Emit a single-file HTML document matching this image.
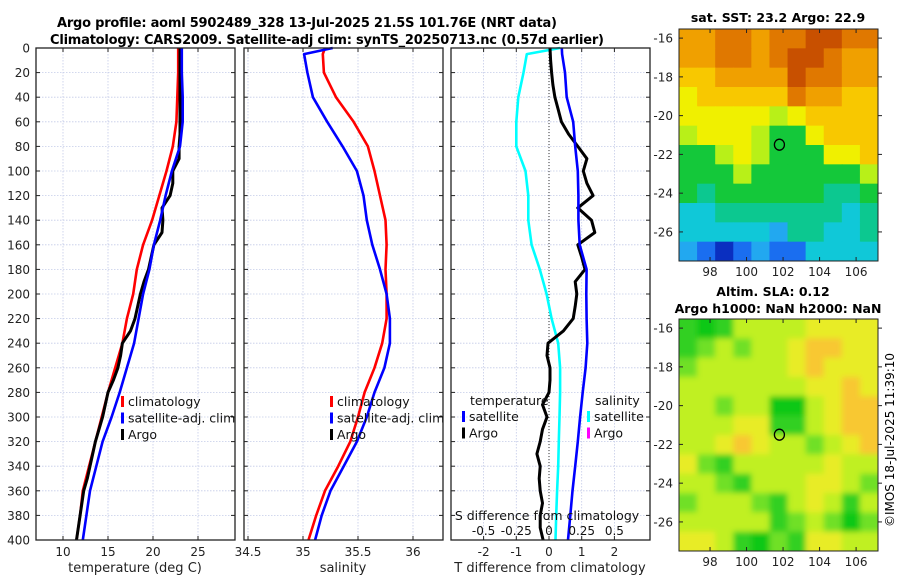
<!DOCTYPE html>
<html><head><meta charset="utf-8"><style>
html,body{margin:0;padding:0;background:#fff;}
svg{display:block;font-family:"DejaVu Sans","Liberation Sans",sans-serif;}
</style></head><body>
<svg id="fig" width="900" height="580" viewBox="0 0 900 580" xmlns="http://www.w3.org/2000/svg">
<text x="307" y="27" text-anchor="middle" font-size="13" font-weight="bold" textLength="500">Argo profile: aoml 5902489_328 13-Jul-2025 21.5S 101.76E (NRT data)</text>
<text x="327" y="44" text-anchor="middle" font-size="13" font-weight="bold" textLength="554">Climatology: CARS2009. Satellite-adj clim: synTS_20250713.nc (0.57d earlier)</text>
<text x="778" y="22" text-anchor="middle" font-size="12.5" font-weight="bold">sat. SST: 23.2 Argo: 22.9</text>
<text x="773" y="296" text-anchor="middle" font-size="12.5" font-weight="bold">Altim. SLA: 0.12</text>
<text x="778" y="313" text-anchor="middle" font-size="12.5" font-weight="bold">Argo h1000: NaN h2000: NaN</text>
<text transform="translate(894,440) rotate(-90)" text-anchor="middle" font-size="12">©IMOS 18-Jul-2025 11:39:10</text>
<g id="plots"></g>
</svg>
<script>
// ---- data ----
const depthsA = [0,5,20,40,60,80,100,120,140,160,180,200,220,240,260,280,300,320,340,360,380,400];
const climT = [22.8,22.8,22.8,22.7,22.6,22.2,21.5,20.7,19.9,18.9,18.2,17.8,17.1,16.6,15.8,15.0,14.3,13.6,12.9,12.2,11.9,11.5];
const satT  = [23.2,23.2,23.2,23.3,23.3,23.0,22.1,21.4,20.8,20.1,19.6,18.9,18.4,17.9,17.1,16.3,15.4,14.4,13.7,13.0,12.6,12.2];
const climS = [35.20,35.18,35.19,35.30,35.46,35.59,35.65,35.70,35.75,35.76,35.75,35.76,35.76,35.72,35.65,35.56,35.50,35.43,35.32,35.20,35.12,35.05];
const satS  = [35.27,35.01,35.04,35.09,35.22,35.36,35.49,35.55,35.58,35.63,35.70,35.76,35.79,35.79,35.74,35.65,35.58,35.49,35.37,35.25,35.17,35.11];
const satTdiff = [0.39,0.40,0.49,0.54,0.74,0.80,0.88,0.90,0.90,0.94,1.15,1.14,1.15,1.17,1.12,1.03,0.95,0.88,0.80,0.72,0.65,0.58];
const satSdiff = [0.085,-0.17,-0.195,-0.235,-0.25,-0.25,-0.18,-0.158,-0.158,-0.133,-0.07,-0.018,0.02,0.07,0.085,0.085,0.08,0.075,0.07,0.062,0.055,0.05];
const depthsB = [0,10,20,30,40,50,60,70,80,90,100,110,120,130,140,150,160,170,180,190,200,210,220,230,240,250,260,270,280,290,300,310,320,330,340,350,360,370,380,390,400];
const argoT = [23.0,23.0,23.0,23.0,23.0,23.0,23.0,23.0,22.9,22.9,22.2,22.2,21.9,21.0,21.1,21.0,20.1,19.8,19.5,19.0,18.6,18.3,18.0,17.5,16.6,16.4,16.1,15.6,15.0,14.7,14.4,14.0,13.6,13.3,13.0,12.7,12.3,12.1,11.9,11.7,11.5];
const argoTdiff = [0.03,0.05,0.08,0.12,0.18,0.28,0.38,0.6,0.88,1.16,1.05,1.16,1.35,0.88,1.3,1.4,0.88,1.0,1.1,0.8,0.85,0.8,0.74,0.44,-0.03,-0.06,0.03,0.03,0.0,-0.2,-0.06,-0.2,-0.27,-0.37,-0.27,-0.3,-0.27,-0.2,-0.27,-0.27,-0.18];
const depthTicks = [0,20,40,60,80,100,120,140,160,180,200,220,240,260,280,300,320,340,360,380,400];
const tTicks = [10,15,20,25];
const sTicks = [34.5,35,35.5,36];
const dTicks = [-2,-1,0,1,2];
const dSTicks = [-0.5,-0.25,0,0.25,0.5];
const dSTickLabels = ['-0.5','-0.25','0','0.25','0.5'];
const sstGrid = [
[9,9,10,10,9,10,10,11,11,10,10],
[9,9,10,10,9,10,11,11,10,9,9],
[8,8,9,9,9,9,11,10,10,9,9],
[7,8,8,8,8,8,10,9,9,8,8],
[7,7,7,7,7,6,7,8,8,8,8],
[6,7,7,7,6,5,5,7,8,8,8],
[5,5,6,7,6,5,5,5,7,7,8],
[5,5,5,6,5,5,5,5,5,5,6],
[5,4,5,5,5,5,5,5,4,4,5],
[3,3,4,4,4,4,4,4,4,3,4],
[3,3,3,3,3,2,4,4,3,3,4],
[2,1,0,1,2,1,1,3,3,3,3]];
const slaGrid = [
[1,0,1,3,3,3,3,4,4,4,4],
[1,2,3,2,3,3,4,5,5,4,4],
[2,3,3,3,3,3,4,5,4,4,4],
[3,3,3,3,3,3,3,4,4,5,4],
[3,3,2,3,3,0,0,3,4,5,5],
[3,3,3,4,4,1,1,3,4,5,5],
[3,3,4,5,4,3,3,2,3,4,5],
[4,2,1,3,3,3,3,3,4,3,3],
[3,3,2,1,3,3,3,4,4,3,2],
[2,3,3,3,2,1,3,4,3,1,3],
[3,3,3,3,3,1,2,3,2,0,2],
[4,4,3,1,0,2,1,4,4,3,3]];
const lonTicks = [98,100,102,104,106];
const latTicks = [-16,-18,-20,-22,-24,-26];
const floatLon = 101.8, floatLat = -21.5;

// ---- helpers ----
const NS = 'http://www.w3.org/2000/svg';
const root = document.getElementById('plots');
function mk(tag, attrs, parent){const e=document.createElementNS(NS,tag);for(const k in attrs)e.setAttribute(k,attrs[k]);(parent||root).appendChild(e);return e;}
function txt(s, attrs, parent){const e=mk('text',attrs,parent);e.textContent=s;return e;}
const Y0=48, Y1=540;
const yD = d => Y0 + (d/400)*(Y1-Y0);
function lin(d0,d1,r0,r1){return v=>r0+(v-d0)/(d1-d0)*(r1-r0);}

function panel(name, x0, x1, xs, ticks, labels, showY){
  const g = mk('g',{});
  
  
  mk('rect',{x:x0,y:Y0,width:x1-x0,height:Y1-Y0,fill:'#fff'},g);
  depthTicks.forEach(d=>{
    mk('line',{x1:x0,x2:x1,y1:yD(d),y2:yD(d),stroke:'#c4cbe8','stroke-width':0.8,'stroke-dasharray':'1.5,1.5'},g);
    mk('line',{x1:x0,x2:x0+4,y1:yD(d),y2:yD(d),stroke:'#222'},g);
    mk('line',{x1:x1-4,x2:x1,y1:yD(d),y2:yD(d),stroke:'#222'},g);
    if(showY){const t=txt(String(d),{x:x0-6,y:yD(d)+4.5,'text-anchor':'end','font-size':12,fill:'#222'},g);
      
      }
  });
  ticks.forEach((v,i)=>{
    const x=xs(v);
    mk('line',{x1:x,x2:x,y1:Y0,y2:Y1,stroke:'#c4cbe8','stroke-width':0.8,'stroke-dasharray':'1.5,1.5'},g);
    mk('line',{x1:x,x2:x,y1:Y1,y2:Y1-4,stroke:'#222'},g);
    mk('line',{x1:x,x2:x,y1:Y0,y2:Y0+4,stroke:'#222'},g);
    const t=txt(labels[i],{x:x,y:556,'text-anchor':'middle','font-size':12,fill:'#222'},g);
    
    
  });
  return g;
}
function frame(g,x0,x1){mk('rect',{x:x0,y:Y0,width:x1-x0,height:Y1-Y0,fill:'none',stroke:'#222','stroke-width':1.3},g);}
function series(g,name,xs,vals,depths,color,w){
  const p=mk('polyline',{points:vals.map((v,i)=>xs(v).toFixed(1)+','+yD(depths[i]).toFixed(1)).join(' '),fill:'none',stroke:color,'stroke-width':w||2.6,'stroke-linejoin':'round'},g);
  
  
}
function legend(g,items,x,y){
  items.forEach((it,i)=>{
    mk('rect',{x:x,y:y+i*16.5-10,width:3,height:11,fill:it[1]},g);
    const t=txt(it[0],{x:x+7,y:y+i*16.5,'font-size':12.5,fill:'#111'},g);
    
    
  });
}
const defs=mk('defs',{});
const f=mk('filter',{id:'blur',x:'-10%',y:'-10%',width:'120%',height:'120%'},defs); mk('feGaussianBlur',{stdDeviation:3},f);
function clipFor(id,x0,x1){const cp=mk('clipPath',{id:id},defs); mk('rect',{x:x0,y:Y0,width:x1-x0,height:Y1-Y0},cp);}

// Panel 1: temperature
const xT = lin(10,25,63,198);
const g1 = panel('temperature-panel',36,235,xT,tTicks,tTicks.map(String),true);
series(g1,'climatology-temperature-line',xT,climT,depthsA,'#f00');
series(g1,'argo-temperature-line',xT,argoT,depthsB,'#000',3);
series(g1,'satellite-temperature-line',xT,satT,depthsA,'#00f');
legend(g1,[['climatology','#f00'],['satellite-adj. clim','#00f'],['Argo','#000']],121,406);
frame(g1,36,235);
const xl1=txt('temperature (deg C)',{x:135,y:572,'text-anchor':'middle','font-size':13,fill:'#222'});



// Panel 2: salinity
const xS = lin(35,36,303,413);
const g2 = panel('salinity-panel',244,443,xS,sTicks,['34.5','35','35.5','36'],false);
series(g2,'climatology-salinity-line',xS,climS,depthsA,'#f00');
series(g2,'satellite-salinity-line',xS,satS,depthsA,'#00f');
clipFor('clip2',244,443);
const lg2=mk('g',{'clip-path':'url(#clip2)'},g2);
legend(lg2,[['climatology','#f00'],['satellite-adj. clim','#00f'],['Argo','#000']],330,406);
frame(g2,244,443);
const xl2=txt('salinity',{x:343,y:572,'text-anchor':'middle','font-size':13,fill:'#222'});



// Panel 3: differences
const xDT = lin(0,1,549,581.7);
const xDS = v => xDT(v*4);
const g3 = panel('difference-panel',451,650,xDT,dTicks,dTicks.map(String),false);
mk('line',{x1:xDT(0),x2:xDT(0),y1:Y0,y2:Y1,stroke:'#333','stroke-width':1,'stroke-dasharray':'1,2'},g3);
series(g3,'satellite-salinity-diff-line',xDS,satSdiff,depthsA,'#0ff');
series(g3,'argo-temperature-diff-line',xDT,argoTdiff,depthsB,'#000',3);
series(g3,'satellite-temperature-diff-line',xDT,satTdiff,depthsA,'#00f');
const ht=txt('temperature',{x:470,y:405,'font-size':12.5,fill:'#111'},g3);


legend(g3,[['satellite','#00f'],['Argo','#000']],462,421);
const hs=txt('salinity',{x:595,y:405,'font-size':12.5,fill:'#111'},g3);


legend(g3,[['satellite','#0ff'],['Argo','#f0f']],587,421);
const st=txt('S difference from climatology',{x:547,y:520,'text-anchor':'middle','font-size':12.5,fill:'#111'},g3);


dSTicks.forEach((v,i)=>{
  const t=txt(dSTickLabels[i],{x:xDS(v),y:535,'text-anchor':'middle','font-size':12,fill:'#111'},g3);
  
  
});
frame(g3,451,650);
const xl3=txt('T difference from climatology',{x:550,y:572,'text-anchor':'middle','font-size':13,fill:'#222'});



// ---- maps ----
const sstColors=['#0a2fc0','#1a6ef0','#22a8f0','#10c8d8','#0cc890','#14c83a','#b8f018','#f0f000','#f8c800','#f0a000','#e07800','#c85000'];
const slaColors=['#0cc818','#30d020','#70e028','#c0f020','#e8ec28','#f8c830','#f8b020'];
const MX0=679, MX1=878, LON0=96.3, LON1=107.2, LAT0=-15.53, LAT1=-27.5;
function drawMap(name,grid,colors,yTop,blur){
  const yBot=yTop+232;
  const xm=lin(LON0,LON1,MX0,MX1), ym=lin(LAT0,LAT1,yTop,yBot);
  const g=mk('g',{});
  
  
  const cid='clip'+name;
  const cp=mk('clipPath',{id:cid},defs); mk('rect',{x:MX0,y:yTop,width:MX1-MX0,height:yBot-yTop},cp);
  const cells=mk('g',{'clip-path':'url(#'+cid+')'},g);
  const inner=mk('g',blur?{filter:'url(#blur)'}:{},cells);
  const ncol=grid[0].length,nrow=grid.length;
  const cw=(MX1-MX0)/ncol, ch=(yBot-yTop)/nrow;
  const pad=blur?6:0;
  grid.forEach((row,r)=>row.forEach((v,c)=>{
    const ex0=c===0?pad:0, ey0=r===0?pad:0, ex1=c===ncol-1?pad:0, ey1=r===nrow-1?pad:0;
    const rc=mk('rect',{x:MX0+c*cw-ex0,y:yTop+r*ch-ey0,width:cw+ex0+ex1+0.6,height:ch+ey0+ey1+0.6,fill:colors[v]},inner);
    
    
  }));
  mk('rect',{x:MX0,y:yTop,width:MX1-MX0,height:yBot-yTop,fill:'none',stroke:'#222','stroke-width':1},g);
  lonTicks.forEach(l=>{const x=xm(l);
    mk('line',{x1:x,x2:x,y1:yBot,y2:yBot-4,stroke:'#222'},g);mk('line',{x1:x,x2:x,y1:yTop,y2:yTop+4,stroke:'#222'},g);
    const t=txt(String(l),{x:x,y:yBot+15,'text-anchor':'middle','font-size':12,fill:'#222'},g);
    
    });
  latTicks.forEach(l=>{const y=ym(l);
    mk('line',{x1:MX0,x2:MX0+4,y1:y,y2:y,stroke:'#222'},g);mk('line',{x1:MX1,x2:MX1+4,y1:y,y2:y,stroke:'#222'},g);
    const t=txt(String(l),{x:MX0-6,y:y+4.5,'text-anchor':'end','font-size':12,fill:'#222'},g);
    
    });
  const c=mk('ellipse',{cx:xm(floatLon),cy:ym(floatLat),rx:5,ry:5.5,fill:'none',stroke:'#000','stroke-width':1.3},g);
  
  
}
drawMap('sst-map',sstGrid,sstColors,29,false);
drawMap('sla-map',slaGrid,slaColors,319,true);
</script>
</body></html>
